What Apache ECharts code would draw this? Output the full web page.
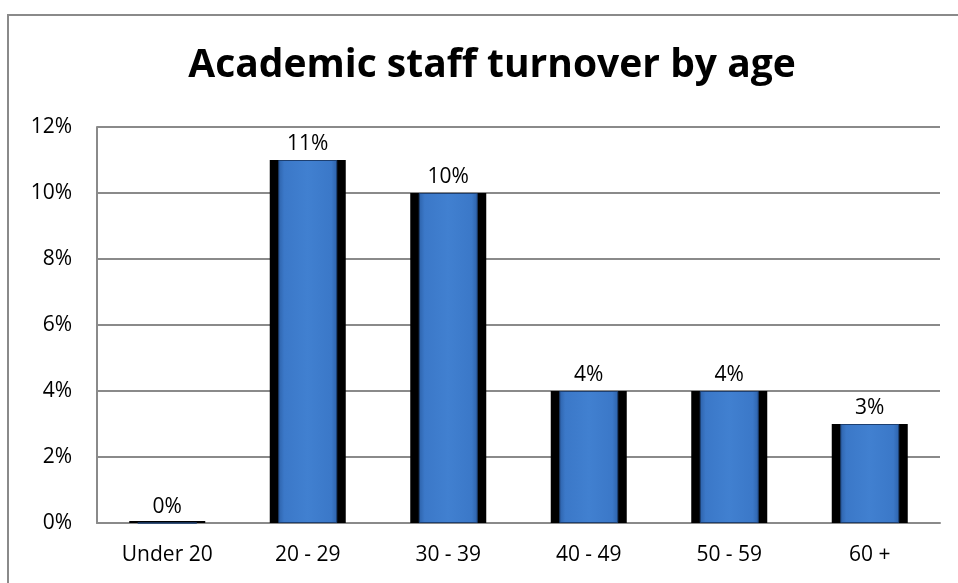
<!DOCTYPE html>
<html>
<head>
<meta charset="utf-8">
<script src="https://cdn.jsdelivr.net/npm/echarts@6/dist/echarts.min.js"></script>
<style>html,body{margin:0;padding:0;background:#fff;}#c{width:958px;height:583px;}</style>
</head>
<body>
<div id="c"></div>
<script>
const categories = ['Under 20', '20 - 29', '30 - 39', '40 - 49', '50 - 59', '60 +'];
const turnover = [0, 11, 10, 4, 4, 3];
const yTicks = [0, 2, 4, 6, 8, 10, 12];
const titleText = 'Academic staff turnover by age';

const chart = echarts.init(document.getElementById('c'));
const lblFont = 'Open Sans';
chart.setOption({
  backgroundColor: '#fff',
  animation: false,
  title: {
    text: titleText, left: 487, top: 41, textAlign: 'center',
    textStyle: { fontFamily: 'Open Sans', fontWeight: 'bold', fontSize: 39, color: '#000' }
  },
  graphic: [{
    type: 'rect', shape: { x: 8, y: 15, width: 970, height: 600 },
    style: { fill: 'none', stroke: '#8a8a8a', lineWidth: 2 }, silent: true, z: -1
  }],
  grid: { left: 97, right: 18, top: 127, bottom: 60 },
  xAxis: [{
    type: 'category', data: categories,
    axisLine: { lineStyle: { color: '#8a8a8a', width: 2 } },
    axisTick: { show: false },
    axisLabel: { color: '#000', fontFamily: lblFont, fontSize: 21, margin: 22 }
  }, {
    type: 'category', data: categories, show: false
  }],
  yAxis: {
    type: 'value', min: yTicks[0], max: yTicks[yTicks.length - 1], interval: 2,
    axisLine: { show: true, lineStyle: { color: '#8a8a8a', width: 2 } },
    axisTick: { show: false },
    splitLine: { lineStyle: { color: '#8a8a8a', width: 2 } },
    axisLabel: { color: '#000', fontFamily: lblFont, fontSize: 21, margin: 25, formatter: '{value}%' }
  },
  series: [{
    type: 'bar', xAxisIndex: 0, data: turnover, barWidth: 76, barMinHeight: 2,
    itemStyle: { color: '#000' }, z: 2, silent: true
  }, {
    type: 'bar', xAxisIndex: 1, data: turnover, barWidth: 59, z: 3,
    itemStyle: {
      color: new echarts.graphic.LinearGradient(0, 0, 1, 0, [
        { offset: 0, color: '#2d62aa' },
        { offset: 0.1, color: '#3b78c8' },
        { offset: 0.5, color: '#4180d0' },
        { offset: 0.9, color: '#3b78c8' },
        { offset: 1, color: '#2d62aa' }
      ]),
      borderColor: '#1d3f70', borderWidth: 1
    },
    label: {
      show: true, position: 'top', distance: 5, formatter: '{c}%',
      color: '#000', fontFamily: lblFont, fontSize: 21
    }
  }]
});
</script>
</body>
</html>
